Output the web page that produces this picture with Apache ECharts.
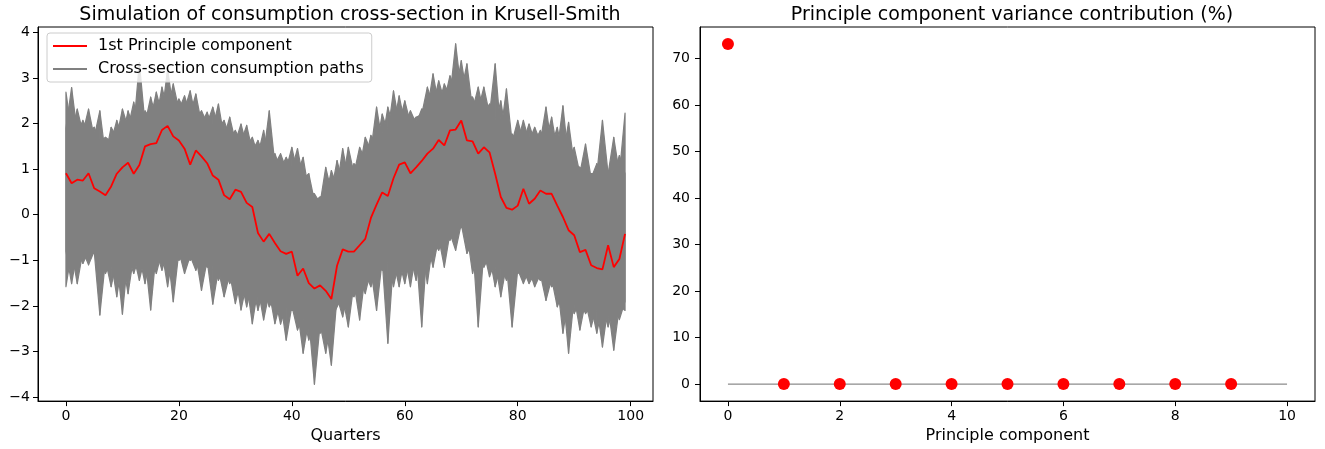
<!DOCTYPE html>
<html>
<head>
<meta charset="utf-8">
<script src="https://cdn.jsdelivr.net/npm/echarts@6/dist/echarts.min.js"></script>
<style>
  html, body { margin: 0; padding: 0; background: #fff; }
  #chart { width: 1325px; height: 449px; }
</style>
</head>
<body>
<div id="chart"></div>
<script>
// quarters 0..99
const quarters = Array.from({ length: 100 }, (_, i) => i)

// 1st principle component (red line)
const pc1 = [
  0.91, 0.69, 0.77, 0.75, 0.91, 0.58, 0.51, 0.43, 0.62, 0.90,
  1.04, 1.14, 0.90, 1.09, 1.50, 1.55, 1.57, 1.86, 1.95, 1.72,
  1.63, 1.45, 1.10, 1.41, 1.28, 1.13, 0.86, 0.77, 0.43, 0.34,
  0.55, 0.50, 0.26, 0.17, -0.40, -0.59, -0.42, -0.62, -0.80, -0.86,
  -0.81, -1.34, -1.18, -1.50, -1.62, -1.55, -1.67, -1.85, -1.12, -0.76,
  -0.81, -0.81, -0.67, -0.53, -0.07, 0.22, 0.49, 0.41, 0.80, 1.10,
  1.15, 0.91, 1.04, 1.18, 1.34, 1.45, 1.64, 1.52, 1.85, 1.87,
  2.07, 1.63, 1.61, 1.34, 1.48, 1.37, 0.90, 0.39, 0.15, 0.11,
  0.20, 0.57, 0.24, 0.35, 0.53, 0.46, 0.46, 0.20, -0.05, -0.34,
  -0.45, -0.82, -0.77, -1.11, -1.17, -1.20, -0.67, -1.15, -0.97, -0.42
]

// highest / lowest cross-section path at each quarter (spike tips)
const pathsMax = [
  2.69, 2.79, 2.32, 2.07, 2.32, 1.92, 2.28, 1.70, 1.92, 2.07,
  2.32, 2.28, 2.47, 3.34, 2.28, 2.58, 2.69, 2.80, 3.20, 2.87,
  2.54, 2.61, 2.72, 2.65, 2.28, 2.25, 2.36, 2.43, 2.07, 2.14,
  1.85, 1.99, 1.96, 1.70, 1.63, 1.85, 2.28, 1.34, 1.34, 1.26,
  1.48, 1.45, 1.26, 0.90, 0.46, 0.39, 1.04, 0.97, 1.19, 1.45,
  1.48, 1.12, 1.48, 1.70, 1.74, 2.36, 2.21, 2.36, 2.72, 2.61,
  2.50, 2.28, 2.14, 2.32, 2.80, 3.09, 2.94, 2.87, 3.05, 3.75,
  3.38, 3.31, 2.58, 2.80, 2.80, 2.43, 3.31, 2.50, 2.76, 1.77,
  2.07, 2.07, 1.99, 1.92, 1.85, 2.36, 2.14, 1.92, 2.39, 2.03,
  1.48, 1.04, 1.55, 0.90, 1.12, 2.07, 0.97, 1.70, 1.30, 2.23
]
const pathsMin = [
  -1.58, -1.51, -1.51, -1.07, -1.10, -0.85, -2.20, -1.29, -1.58, -1.80,
  -2.18, -1.73, -1.29, -1.44, -1.51, -2.09, -1.29, -1.22, -1.58, -1.91,
  -1.00, -1.29, -1.00, -1.22, -1.66, -1.15, -1.96, -1.44, -1.80, -1.51,
  -1.95, -2.09, -2.02, -2.39, -2.10, -2.31, -2.02, -2.39, -2.40, -2.75,
  -2.10, -2.53, -3.04, -2.75, -3.72, -2.60, -3.04, -3.30, -2.02, -2.24,
  -2.46, -1.80, -2.31, -1.73, -1.58, -2.10, -1.22, -2.82, -1.58, -1.58,
  -1.51, -1.58, -1.44, -2.46, -1.51, -1.15, -0.78, -1.15, -0.56, -0.78,
  -0.27, -0.85, -1.29, -2.46, -1.15, -1.36, -1.58, -1.80, -1.44, -2.46,
  -1.29, -1.51, -1.51, -1.58, -1.44, -1.88, -1.58, -2.02, -2.60, -3.04,
  -2.17, -2.53, -2.17, -2.46, -2.60, -2.90, -2.46, -2.97, -2.30, -2.10
]

// edges of the dense (solid gray) part of the cloud
const coreTop = [
  1.9, 1.8, 1.8, 1.8, 1.8, 1.7, 1.6, 1.3, 1.6, 1.7,
  1.7, 1.9, 1.9, 1.9, 2.0, 2.1, 2.1, 2.2, 2.3, 2.3,
  2.3, 2.3, 2.2, 2.1, 2.0, 2.0, 1.9, 1.9, 1.7, 1.7,
  1.6, 1.6, 1.5, 1.4, 1.3, 1.3, 1.2, 1.1, 1.0, 1.0,
  1.0, 0.9, 0.8, 0.5, 0.3, 0.25, 0.4, 0.5, 0.6, 0.7,
  0.8, 0.9, 1.0, 1.2, 1.4, 1.5, 1.6, 1.8, 1.9, 2.0,
  2.0, 2.0, 2.0, 2.2, 2.3, 2.4, 2.4, 2.5, 2.6, 2.7,
  2.7, 2.6, 2.3, 2.3, 2.2, 2.2, 2.0, 1.8, 1.7, 1.6,
  1.6, 1.6, 1.6, 1.6, 1.6, 1.6, 1.5, 1.4, 1.3, 1.2,
  1.1, 0.9, 0.9, 0.8, 0.9, 0.9, 0.9, 0.9, 0.9, 0.9
]
const coreBottom = [
  -0.8, -0.8, -0.8, -0.8, -0.8, -0.8, -0.9, -1.0, -1.0, -1.0,
  -1.0, -0.9, -0.9, -0.9, -0.9, -0.9, -0.8, -0.8, -0.8, -0.8,
  -0.8, -0.9, -0.9, -0.9, -0.9, -1.0, -1.1, -1.2, -1.2, -1.3,
  -1.3, -1.4, -1.5, -1.5, -1.6, -1.6, -1.7, -1.8, -1.9, -2.0,
  -2.0, -2.1, -2.2, -2.3, -2.4, -2.4, -2.4, -2.3, -1.8, -1.8,
  -1.7, -1.5, -1.4, -1.3, -1.2, -1.1, -1.0, -1.0, -1.0, -1.0,
  -0.9, -0.9, -0.8, -0.7, -0.6, -0.6, -0.5, -0.5, -0.4, -0.3,
  -0.2, -0.4, -0.6, -0.8, -0.8, -0.9, -1.0, -1.1, -1.1, -1.2,
  -1.2, -1.2, -1.2, -1.3, -1.3, -1.3, -1.4, -1.5, -1.7, -1.8,
  -1.8, -1.9, -1.9, -2.0, -2.0, -2.0, -2.0, -2.0, -2.0, -1.9
]

// variance contribution (%) of each principle component
const components = [0, 1, 2, 3, 4, 5, 6, 7, 8, 9]
const varianceShare = [73.1, 0, 0, 0, 0, 0, 0, 0, 0, 0]
const zeroLineX = [0, 10]
const zeroLineY = [0, 0]

const leftXTicks = [0, 20, 40, 60, 80, 100]
const leftYTicks = [-4, -3, -2, -1, 0, 1, 2, 3, 4]
const rightXTicks = [0, 2, 4, 6, 8, 10]
const rightYTicks = [0, 10, 20, 30, 40, 50, 60, 70]

const FONT = 'DejaVu Sans'
const GRAY = '#808080'
const fmt = v => (v < 0 ? '\u2212' + Math.abs(v) : String(v))

const axisCommon = (ticks) => ({
  type: 'value',
  axisLine: { show: true, onZero: false, lineStyle: { color: '#000', width: 1 } },
  axisTick: { show: true, length: 5, inside: false, customValues: ticks, lineStyle: { color: '#000' } },
  axisLabel: { customValues: ticks, formatter: fmt, color: '#000', fontFamily: FONT, fontSize: 14, margin: 8 },
  splitLine: { show: false }
})

// cloud segment between quarter i and i+1
const bandSegments = quarters.slice(0, -1).map((q, i) => [
  q, pathsMax[i], pathsMin[i], coreTop[i], coreBottom[i],
  quarters[i + 1], pathsMax[i + 1], pathsMin[i + 1], coreTop[i + 1], coreBottom[i + 1]
])

// spikes: extreme at one end of the segment falls back to the dense core at the other end
const renderBand = (params, api) => {
  const x0 = api.value(0), x1 = api.value(5)
  const pt = (x, dim) => api.coord([x, api.value(dim)])
  const style = { fill: GRAY, stroke: GRAY, lineWidth: 1.2, lineJoin: 'round' }
  return {
    type: 'group',
    children: [
      { type: 'polygon', shape: { points: [pt(x0, 1), pt(x1, 8), pt(x1, 9), pt(x0, 2)] }, style },
      { type: 'polygon', shape: { points: [pt(x0, 3), pt(x1, 6), pt(x1, 7), pt(x0, 4)] }, style }
    ]
  }
}

const chart = echarts.init(document.getElementById('chart'))

chart.setOption({
  animation: false,
  backgroundColor: '#fff',
  title: [
    {
      text: 'Simulation of consumption cross-section in Krusell-Smith',
      left: 345, top: 1, textAlign: 'center',
      textStyle: { fontFamily: FONT, fontSize: 19, fontWeight: 'normal', color: '#000' }
    },
    {
      text: 'Principle component variance contribution (%)',
      left: 1007, top: 1, textAlign: 'center',
      textStyle: { fontFamily: FONT, fontSize: 19, fontWeight: 'normal', color: '#000' }
    }
  ],
  legend: {
    data: ['1st Principle component', 'Cross-section consumption paths'],
    orient: 'vertical',
    left: 47, top: 33,
    icon: 'rect',
    itemWidth: 34, itemHeight: 2,
    itemGap: 7,
    padding: [5, 8, 5, 6],
    backgroundColor: 'rgba(255,255,255,0.8)',
    borderColor: '#ccc', borderWidth: 1, borderRadius: 3,
    textStyle: { fontFamily: FONT, fontSize: 16, color: '#000', padding: [0, 0, 0, 6] }
  },
  grid: [
    { left: 38, top: 27, width: 615, height: 376, show: true, borderColor: '#000', borderWidth: 1 },
    { left: 700, top: 27, width: 615, height: 376, show: true, borderColor: '#000', borderWidth: 1 }
  ],
  xAxis: [
    Object.assign(axisCommon(leftXTicks), {
      gridIndex: 0, position: 'bottom', min: -4.95, max: 103.95,
      name: 'Quarters', nameLocation: 'middle', nameGap: 26,
      nameTextStyle: { fontFamily: FONT, fontSize: 16, color: '#000' }
    }),
    Object.assign(axisCommon(rightXTicks), {
      gridIndex: 1, position: 'bottom', min: -0.5, max: 10.5,
      name: 'Principle component', nameLocation: 'middle', nameGap: 26,
      nameTextStyle: { fontFamily: FONT, fontSize: 16, color: '#000' }
    })
  ],
  yAxis: [
    Object.assign(axisCommon(leftYTicks), { gridIndex: 0, position: 'left', min: -4.09, max: 4.12 }),
    Object.assign(axisCommon(rightYTicks), {
      gridIndex: 1, position: 'left', min: -3.65, max: 76.75,
      axisLabel: Object.assign(axisCommon(rightYTicks).axisLabel, { margin: 10 })
    })
  ],
  series: [
    {
      name: 'Cross-section consumption paths',
      type: 'custom',
      xAxisIndex: 0, yAxisIndex: 0,
      renderItem: renderBand,
      encode: { x: [0, 5], y: [1, 2, 6, 7] },
      itemStyle: { color: GRAY },
      clip: true,
      silent: true,
      data: bandSegments,
      z: 2
    },
    {
      name: '1st Principle component',
      type: 'line',
      xAxisIndex: 0, yAxisIndex: 0,
      symbol: 'none',
      lineStyle: { color: '#ff0000', width: 1.8 },
      itemStyle: { color: '#ff0000' },
      data: quarters.map((q, i) => [q, pc1[i]]),
      z: 3
    },
    {
      name: 'zero',
      type: 'line',
      xAxisIndex: 1, yAxisIndex: 1,
      symbol: 'none', silent: true,
      lineStyle: { color: '#707070', width: 1 },
      data: zeroLineX.map((x, i) => [x, zeroLineY[i]]),
      z: 2
    },
    {
      name: 'variance',
      type: 'scatter',
      xAxisIndex: 1, yAxisIndex: 1,
      symbolSize: 12,
      itemStyle: { color: '#ff0000', opacity: 1 },
      data: components.map((c, i) => [c, varianceShare[i]]),
      z: 3
    }
  ]
})
</script>
</body>
</html>
